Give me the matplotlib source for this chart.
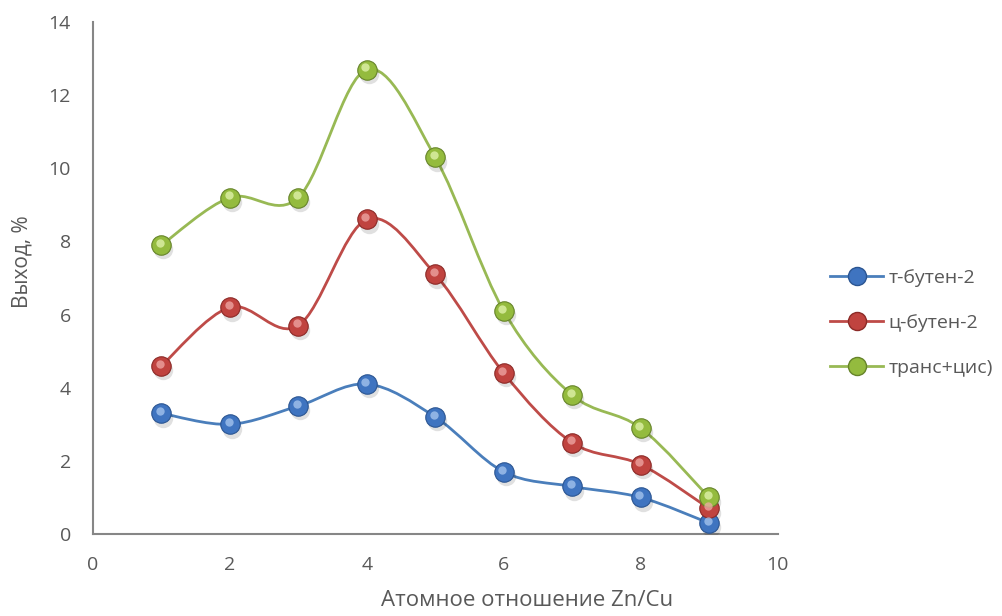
import numpy as np
import matplotlib
matplotlib.use('Agg')
import matplotlib.pyplot as plt
from matplotlib.path import Path
from matplotlib.patches import PathPatch
from matplotlib.lines import Line2D

plt.rcParams['font.family'] = ['Open Sans', 'DejaVu Sans']

x = [1, 2, 3, 4, 5, 6, 7, 8, 9]
t_buten = [3.3, 3.0, 3.5, 4.1, 3.2, 1.7, 1.3, 1.0, 0.3]
c_buten = [4.6, 6.2, 5.7, 8.6, 7.1, 4.4, 2.5, 1.9, 0.7]
trans_cis = [7.9, 9.2, 9.2, 12.7, 10.3, 6.1, 3.8, 2.9, 1.0]
names = ['т-бутен-2', 'ц-бутен-2', 'транс+цис)']
series = [t_buten, c_buten, trans_cis]
# line, marker face, marker edge, highlight
colors = [('#4a7ebb', '#3f74c0', '#2b5592', '#a9c8f0'),
          ('#be4b48', '#c0433f', '#8c2a27', '#f0a9a7'),
          ('#98b954', '#94bb3e', '#66842a', '#e4f5b0')]
grey = '#595959'


def smooth_path(xs, ys):
    # bezier like excel smoothed lines
    pts = np.column_stack([xs, ys]).astype(float)
    n = len(pts)
    verts = [pts[0]]
    codes = [Path.MOVETO]
    for i in range(n - 1):
        p0 = pts[i - 1] if i > 0 else pts[i]
        p1 = pts[i]
        p2 = pts[i + 1]
        p3 = pts[i + 2] if i + 2 < n else pts[i + 1]
        c1 = p1 + (p2 - p0) / 6.0
        c2 = p2 - (p3 - p1) / 6.0
        verts += [c1, c2, p2]
        codes += [Path.CURVE4] * 3
    return Path(verts, codes)


fig = plt.figure(figsize=(10.03, 6.16), dpi=100)
ax = fig.add_axes([0.0927, 0.1331, 0.6825, 0.8312])

for ys, (lc, fc, ec, hc) in zip(series, colors):
    ax.add_patch(PathPatch(smooth_path(x, ys), facecolor='none', edgecolor=lc, lw=2, zorder=2))
for ys, (lc, fc, ec, hc) in zip(series, colors):
    # shadow, ball, highlight
    ax.plot(np.array(x) + 0.03, np.array(ys) - 0.12, 'o', ms=14, color='#000000', alpha=0.12,
            mec='none', zorder=3)
    ax.plot(x, ys, 'o', ms=14, mfc=fc, mec=ec, mew=0.8, zorder=4)
    ax.plot(np.array(x) - 0.02, np.array(ys) + 0.06, 'o', ms=6, mfc=hc, mec='none', alpha=0.75,
            zorder=5)

ax.set_xlim(0, 10)
ax.set_ylim(0, 14)
ax.set_xticks(range(0, 11, 2))
ax.set_yticks(range(0, 15, 2))
for s in ['top', 'right']:
    ax.spines[s].set_visible(False)
for s in ['left', 'bottom']:
    ax.spines[s].set_color('#868686')
    ax.spines[s].set_linewidth(1.5)
ax.tick_params(length=0, labelsize=14, labelcolor=grey)
ax.tick_params(axis='x', pad=16)
ax.tick_params(axis='y', pad=16)

fig.text(0.022, 0.575, 'Выход, %', rotation=90, ha='center', va='center', fontsize=15, color=grey)
fig.text(0.525, 0.025, 'Атомное отношение Zn/Cu', ha='center', va='center', fontsize=16, color=grey)

handles = []
for name, (lc, fc, ec, hc) in zip(names, colors):
    handles.append(Line2D([0], [0], color=lc, lw=2, marker='o', ms=13, mfc=fc, mec=ec, label=name))
leg = fig.legend(handles=handles, loc='center left', bbox_to_anchor=(0.828, 0.476),
                 frameon=False, fontsize=14, labelcolor=grey, handlelength=2.7,
                 handletextpad=0.3, labelspacing=1.4, borderpad=0, borderaxespad=0)

fig.savefig('out.png', dpi=100)
